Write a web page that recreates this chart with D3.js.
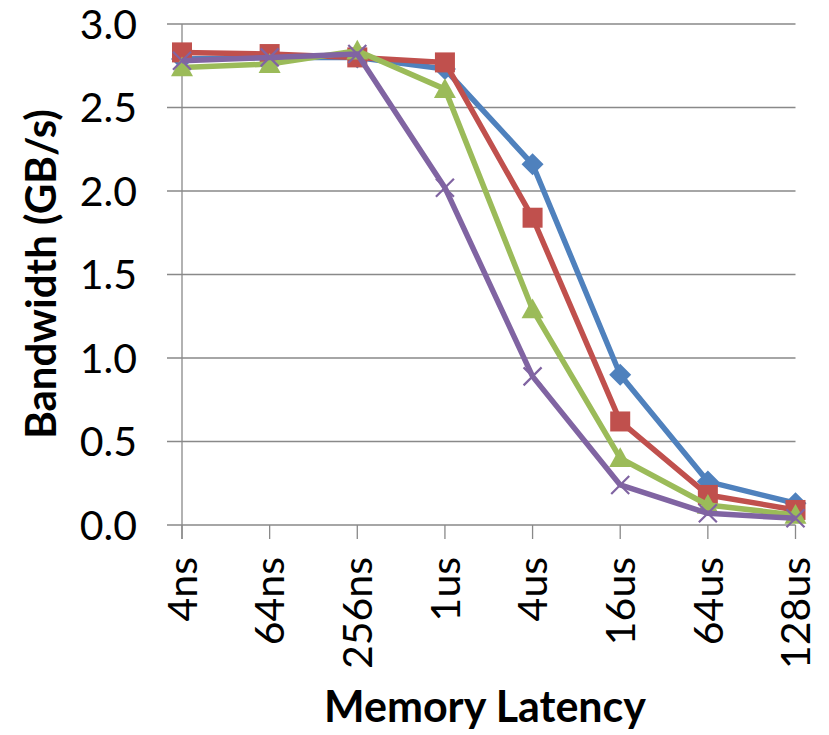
<!DOCTYPE html>
<html><head><meta charset="utf-8">
<script src="https://cdn.jsdelivr.net/npm/d3@7"></script>
<style>body{margin:0;background:#fff}svg{display:block}</style>
</head><body>
<svg id="c" width="829" height="735"></svg>
<script>
const categories = ["4ns","64ns","256ns","1us","4us","16us","64us","128us"];
const yTicks = [0,0.5,1.0,1.5,2.0,2.5,3.0];
const seriesBlue   = [2.79,2.80,2.80,2.73,2.16,0.90,0.26,0.13];
const seriesRed    = [2.83,2.82,2.80,2.77,1.84,0.62,0.18,0.09];
const seriesGreen  = [2.74,2.76,2.84,2.61,1.29,0.40,0.12,0.06];
const seriesPurple = [2.78,2.80,2.82,2.02,0.89,0.24,0.07,0.04];
const seriesList = [
  {values: seriesBlue, color:"#4F81BD", marker:"diamond"},
  {values: seriesRed, color:"#C0504D", marker:"square"},
  {values: seriesGreen, color:"#9BBB59", marker:"triangle"},
  {values: seriesPurple, color:"#8064A2", marker:"x"}
];

const svg = d3.select("#c");
const L = 182, R = 795.5, T = 24, B = 525;
const x = d3.scalePoint().domain(categories).range([L, R]);
const y = d3.scaleLinear().domain([0,3]).range([B, T]);
const font = "Lato, 'Open Sans', sans-serif";
const grid = "#898989";

// gridlines
svg.append("g").selectAll("line").data(yTicks).join("line")
  .attr("x1", L-15).attr("x2", R).attr("y1", d=>y(d)).attr("y2", d=>y(d))
  .attr("stroke", grid).attr("stroke-width", 1.3);
// y axis line
svg.append("line").attr("x1", L).attr("x2", L).attr("y1", T).attr("y2", B+14)
  .attr("stroke", grid).attr("stroke-width", 1.3);
// x ticks
svg.append("g").selectAll("line").data(categories).join("line")
  .attr("x1", d=>x(d)).attr("x2", d=>x(d)).attr("y1", B).attr("y2", B+14)
  .attr("stroke", grid).attr("stroke-width", 1.3);

// y labels
svg.append("g").selectAll("text").data(yTicks).join("text")
  .attr("x", 137).attr("y", d=>y(d)).attr("dy","0.36em")
  .attr("text-anchor","end").attr("font-family", font).attr("font-size", 41)
  .attr("fill","#000").text(d=>d.toFixed(1));
// x labels
svg.append("g").selectAll("text").data(categories).join("text")
  .attr("transform", d=>`translate(${x(d)},557) rotate(-90)`)
  .attr("dy","0.36em")
  .attr("text-anchor","end").attr("font-family", font).attr("font-size", 41)
  .attr("fill","#000").text(d=>d);

// titles
svg.append("text").attr("x", 485).attr("y", 722).attr("text-anchor","middle")
  .attr("font-family", font).attr("font-weight","bold").attr("font-size", 43)
  .text("Memory Latency");
svg.append("text").attr("transform","translate(56,274) rotate(-90)").attr("text-anchor","middle")
  .attr("font-family", font).attr("font-weight","bold").attr("font-size", 42)
  .text("Bandwidth (GB/s)");

const line = d3.line().x((d,i)=>x(categories[i])).y(d=>y(d));
seriesList.forEach(s=>{
  const g = svg.append("g");
  g.append("path").attr("d", line(s.values)).attr("fill","none")
    .attr("stroke", s.color).attr("stroke-width", 5.5).attr("stroke-linejoin","round");
  s.values.forEach((v,i)=>{
    const cx = x(categories[i]), cy = y(v);
    if (s.marker === "x") {
      const r = 9;
      g.append("path").attr("d",`M${cx-r},${cy-r}L${cx+r},${cy+r}M${cx-r},${cy+r}L${cx+r},${cy-r}`)
        .attr("stroke", s.color).attr("stroke-width", 2.2);
    } else if (s.marker === "diamond") {
      const r = 11;
      g.append("path").attr("d",`M${cx},${cy-r}L${cx+r},${cy}L${cx},${cy+r}L${cx-r},${cy}Z`)
        .attr("fill", s.color);
    } else if (s.marker === "square") {
      const r = 10;
      g.append("rect").attr("x",cx-r).attr("y",cy-r).attr("width",2*r).attr("height",2*r)
        .attr("fill", s.color);
    } else {
      const r = 11;
      g.append("path").attr("d",`M${cx},${cy-r}L${cx+r},${cy+r*0.8}L${cx-r},${cy+r*0.8}Z`)
        .attr("fill", s.color);
    }
  });
});
</script>
</body></html>
